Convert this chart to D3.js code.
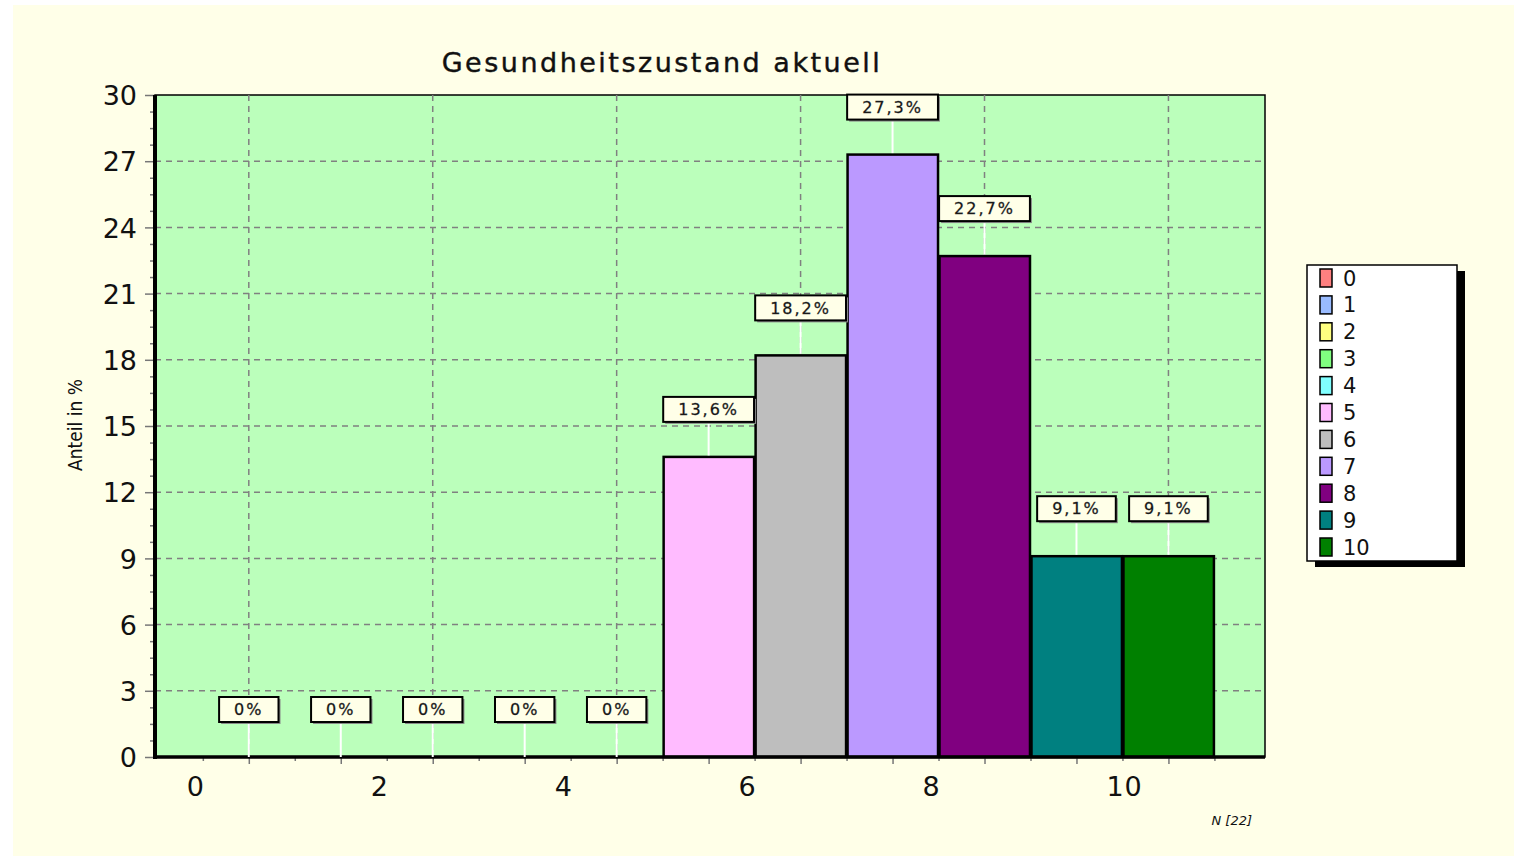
<!DOCTYPE html>
<html>
<head>
<meta charset="utf-8">
<script src="https://cdn.jsdelivr.net/npm/d3@7"></script>
<style>
  body { margin: 0; background: #fff; }
  svg { display: block; }
  text { font-family: "DejaVu Sans", Verdana, sans-serif; fill: #111; }
</style>
</head>
<body>
<div id="chart"></div>
<script>
// values
const categories = [0, 1, 2, 3, 4, 5, 6, 7, 8, 9, 10];
const shares = [0, 0, 0, 0, 0, 13.6, 18.2, 27.3, 22.7, 9.1, 9.1];
const shareLabels = ["0%", "0%", "0%", "0%", "0%", "13,6%", "18,2%", "27,3%", "22,7%", "9,1%", "9,1%"];
const colors = ["#ff8080", "#99bbff", "#ffff80", "#80ff80", "#80ffff", "#ffbbff",
                "#bebebe", "#bb99ff", "#800080", "#008080", "#008000"];
const yTicks = [0, 3, 6, 9, 12, 15, 18, 21, 24, 27, 30];
const xTickLabels = [0, 2, 4, 6, 8, 10];
const gridX = [0, 2, 4, 6, 8, 10];

const W = 1519, H = 858;
const plot = {left: 155, right: 1265, top: 95, bottom: 757};

const svg = d3.select("#chart").append("svg")
    .attr("width", W)
    .attr("height", H);

// page background
svg.append("rect")
    .attr("x", 13).attr("y", 5)
    .attr("width", 1501).attr("height", 851)
    .attr("fill", "#ffffe8");

const x = d3.scaleLinear()
    .domain([-1.02, 11.05])
    .range([plot.left, plot.right]);

const y = d3.scaleLinear()
    .domain([0, 30])
    .range([plot.bottom, plot.top]);

const unit = x(1) - x(0);

// plot area
svg.append("rect")
    .attr("x", plot.left).attr("y", plot.top)
    .attr("width", plot.right - plot.left)
    .attr("height", plot.bottom - plot.top)
    .attr("fill", "#bbffbb")
    .attr("stroke", "#000")
    .attr("stroke-width", 1.5);

// grid
const grid = svg.append("g")
    .attr("stroke", "#808080")
    .attr("stroke-width", 1.5)
    .attr("stroke-dasharray", "6,5");

grid.selectAll("line.h")
    .data(yTicks.slice(1, -1))
    .enter().append("line")
    .attr("class", "h")
    .attr("x1", plot.left).attr("x2", plot.right)
    .attr("y1", d => y(d)).attr("y2", d => y(d));

grid.selectAll("line.v")
    .data(gridX)
    .enter().append("line")
    .attr("class", "v")
    .attr("x1", d => x(d)).attr("x2", d => x(d))
    .attr("y1", plot.top).attr("y2", plot.bottom);

// bars
svg.selectAll(".bar")
    .data(categories)
    .enter().append("rect")
    .attr("class", "bar")
    .attr("x", d => x(d - 0.5) + 1)
    .attr("y", d => y(shares[d]))
    .attr("width", unit - 1.5)
    .attr("height", d => y(0) - y(shares[d]))
    .attr("fill", d => colors[d])
    .attr("stroke", "#000")
    .attr("stroke-width", 2.5)
    .style("display", d => shares[d] > 0 ? null : "none");

// y axis: minor and major ticks
const minor = d3.range(0, 30.01, 0.75).filter(v => v % 3 !== 0);
svg.append("g")
    .attr("transform", `translate(${plot.left},0)`)
    .call(d3.axisLeft(y).tickValues(minor).tickSize(5).tickFormat(""))
    .call(g => g.select(".domain").remove())
    .call(g => g.selectAll("line").attr("stroke", "#777").attr("stroke-width", 1.5));

svg.append("g")
    .attr("transform", `translate(${plot.left},0)`)
    .call(d3.axisLeft(y).tickValues(yTicks).tickSize(10).tickPadding(8))
    .call(g => g.select(".domain").remove())
    .call(g => g.selectAll("line").attr("stroke", "#777").attr("stroke-width", 1.5))
    .call(g => g.selectAll("text")
        .attr("font-size", 27)
        .attr("font-family", "'DejaVu Sans', Verdana, sans-serif")
        .attr("fill", "#111")
        .attr("dy", "0.36em"));

// x axis ticks: long at category centres, short at bar edges
svg.append("g")
    .attr("transform", `translate(0,${plot.bottom})`)
    .call(d3.axisBottom(x).tickValues(categories).tickSize(7).tickFormat(""))
    .call(g => g.select(".domain").remove())
    .call(g => g.selectAll("line").attr("stroke", "#777").attr("stroke-width", 1.5));

svg.append("g")
    .attr("transform", `translate(0,${plot.bottom})`)
    .call(d3.axisBottom(x).tickValues(categories.map(c => c - 0.5).concat([10.5])).tickSize(4).tickFormat(""))
    .call(g => g.select(".domain").remove())
    .call(g => g.selectAll("line").attr("stroke", "#777").attr("stroke-width", 1.5));

svg.append("g")
    .selectAll("text")
    .data(xTickLabels)
    .enter().append("text")
    .attr("x", d => x(d) - 62)
    .attr("y", 796)
    .attr("text-anchor", "start")
    .attr("font-size", 27)
    .attr("letter-spacing", 1)
    .text(d => d);

// thick left and bottom axis lines
svg.append("line")
    .attr("x1", plot.left).attr("x2", plot.left)
    .attr("y1", plot.top).attr("y2", plot.bottom + 2)
    .attr("stroke", "#000").attr("stroke-width", 4);
svg.append("line")
    .attr("x1", plot.left).attr("x2", plot.right)
    .attr("y1", plot.bottom).attr("y2", plot.bottom)
    .attr("stroke", "#000").attr("stroke-width", 3.5);

// value labels with connectors
const labels = svg.append("g");
const boxH = 25;
categories.forEach(c => {
    const cx = x(c);
    const top = y(shares[c]);
    const boxBottom = top - 35;
    const g = labels.append("g");
    g.append("line")
        .attr("x1", cx).attr("x2", cx)
        .attr("y1", boxBottom).attr("y2", top - (shares[c] > 0 ? 1.5 : 0))
        .attr("stroke", "#fff").attr("stroke-width", 2);
    const t = g.append("text")
        .attr("x", cx)
        .attr("y", boxBottom - boxH / 2)
        .attr("dy", "0.36em")
        .attr("text-anchor", "middle")
        .attr("font-size", 16)
        .attr("letter-spacing", 2)
        .attr("stroke", "#333")
        .attr("stroke-width", 0.3)
        .text(shareLabels[c]);
    const tw = t.node().getComputedTextLength();
    const bw = tw + 30;
    g.insert("rect", "text")
        .attr("x", cx - bw / 2 + 2).attr("y", boxBottom - boxH + 2)
        .attr("width", bw).attr("height", boxH)
        .attr("fill", "#888");
    g.insert("rect", "text")
        .attr("x", cx - bw / 2).attr("y", boxBottom - boxH)
        .attr("width", bw).attr("height", boxH)
        .attr("fill", "#ffffe8")
        .attr("stroke", "#000")
        .attr("stroke-width", 2);
});

// title
svg.append("text")
    .attr("x", 662)
    .attr("y", 72)
    .attr("text-anchor", "middle")
    .attr("font-size", 27)
    .attr("letter-spacing", 2.5)
    .attr("stroke", "#111")
    .attr("stroke-width", 0.4)
    .text("Gesundheitszustand aktuell");

// y axis title
svg.append("text")
    .attr("transform", "translate(82,425) rotate(-90)")
    .attr("text-anchor", "middle")
    .attr("font-family", "'Liberation Sans Narrow', 'Liberation Sans', sans-serif")
    .attr("font-stretch", "condensed")
    .attr("font-size", 19)
    .text("Anteil in %");

// N
svg.append("text")
    .attr("x", 1252)
    .attr("y", 825)
    .attr("text-anchor", "end")
    .attr("font-size", 13)
    .attr("font-style", "italic")
    .attr("fill", "#222")
    .text("N [22]");

// legend
const legend = svg.append("g")
    .attr("transform", "translate(1307,265)");
legend.append("rect")
    .attr("x", 8).attr("y", 6)
    .attr("width", 150).attr("height", 296)
    .attr("fill", "#000");
legend.append("rect")
    .attr("width", 150).attr("height", 296)
    .attr("fill", "#fff")
    .attr("stroke", "#000")
    .attr("stroke-width", 1.5);
legend.selectAll("rect.item")
    .data(categories)
    .enter().append("rect")
    .attr("class", "item")
    .attr("x", 13)
    .attr("y", (d, i) => 4 + i * 26.9)
    .attr("width", 12)
    .attr("height", 18)
    .attr("fill", d => colors[d])
    .attr("stroke", "#000")
    .attr("stroke-width", 1.5);
legend.selectAll("text")
    .data(categories)
    .enter().append("text")
    .attr("x", 36)
    .attr("y", (d, i) => 13 + i * 26.9)
    .attr("dy", "0.36em")
    .attr("font-size", 21)
    .text(d => d);
</script>
</body>
</html>
